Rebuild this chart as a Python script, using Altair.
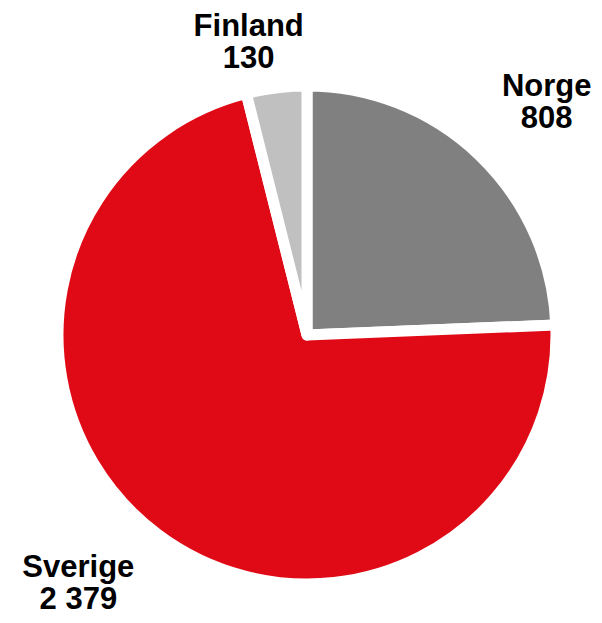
import altair as alt
import pandas as pd
import numpy as np

# --- data ---
countries = ["Norge", "Sverige", "Finland"]
values = [808, 2379, 130]
value_labels = ["808", "2 379", "130"]
colors = ["#808080", "#E00A16", "#C0C0C0"]

# --- derived table ---
total = sum(values)
ends = np.cumsum(values)
starts = ends - np.array(values)
df = pd.DataFrame({
    "country": countries,
    "value": values,
    "start": starts,
    "end": ends,
    "mid": (starts + ends) / 2,
    "label": [f"{c}\n{v}" for c, v in zip(countries, value_labels)],
})

# --- styles ---
label_offsets = {"Norge": (18, -17), "Finland": (-19, 10), "Sverige": (-37, -23)}
label_font = dict(font="Liberation Sans", fontSize=31, fontWeight="bold",
                  lineBreak="\n", lineHeight=32, baseline="middle",
                  align="center", color="black")

theta_scale = alt.Scale(domain=[0, total], range=[0, 2 * np.pi])
color_scale = alt.Scale(domain=countries, range=colors)

base = alt.Chart(df)

pie = base.mark_arc(outerRadius=249, stroke="white", strokeWidth=11,
                    strokeJoin="round").encode(
    theta=alt.Theta("start:Q", scale=theta_scale, stack=None),
    theta2="end:Q",
    color=alt.Color("country:N", scale=color_scale, legend=None),
)

layers = [pie]
for c in countries:
    dx, dy = label_offsets[c]
    layers.append(
        base.transform_filter(alt.datum.country == c)
        .mark_text(radius=320, dx=dx, dy=dy, **label_font)
        .encode(
            theta=alt.Theta("mid:Q", scale=theta_scale, stack=None),
            text="label:N",
        )
    )

chart = alt.layer(*layers).properties(
    width=574,
    height=560,
    padding={"left": 12, "top": 47, "right": 0, "bottom": 0},
    autosize=alt.AutoSizeParams(type="none"),
    background="white",
).configure_view(stroke=None)

chart.save("out.html", embed_options={"renderer": "svg", "actions": False})
